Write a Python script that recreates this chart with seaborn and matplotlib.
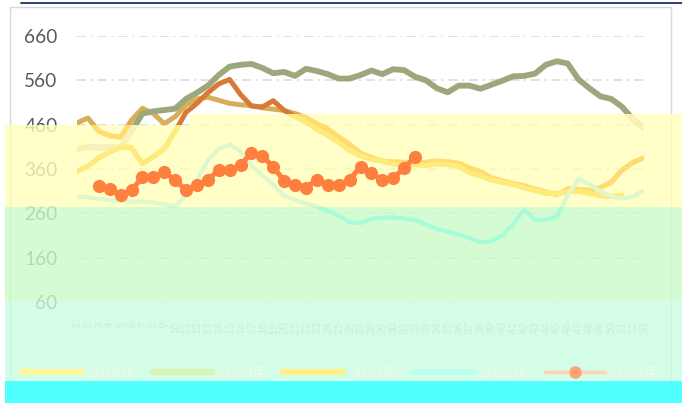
import numpy as np
import pandas as pd
import matplotlib.pyplot as plt
import seaborn as sns
from matplotlib.patches import Polygon, Rectangle
from matplotlib.lines import Line2D

nan = np.nan

# x axis: one category per week
weeks = [str(i) for i in range(1, 54)]
names = ['2019年', '2020年', '2021年', '2022年', '2023年']

# values, one per week
s2019 = [464, 475, 445, 435, 432, 470, 497, 485, 462, 478,
         505, 518, 522, 515, 508, 505, 503, 498, 495, 492,
         485, 476, 462, 450, 432, 415, 396, 386, 378, 376,
         375, 373, 375, 378, 376, 373, 362, 354, 340, 333,
         327, 322, 315, 308, 302, 315, 314, 312, 318, 330,
         358, 375, 385]
s2020 = [405, 410, 408, 410, 408, 445, 485, 490, 493, 496,
         518, 532, 548, 572, 591, 595, 597, 588, 576, 579,
         570, 586, 581, 574, 564, 564, 572, 582, 574, 585,
         583, 568, 560, 542, 533, 548, 548, 541, 550, 559,
         569, 570, 575, 595, 603, 598, 562, 542, 524, 518,
         500, 472, 452]
s2021 = [355, 366, 385, 398, 410, 408, 372, 388, 405, 445,
         488, 508, 532, 552, 562, 528, 502, 500, 514, 492,
         478, 466, 450, 436, 420, 402, 390, 382, 378, 372,
         368, 370, 368, 372, 370, 366, 352, 345, 335, 330,
         325, 318, 312, 306, 304, 310, 310, 305, 300, 298,
         300, nan, nan]
s2022 = [298, 296, 293, 290, 288, 286, 287, 285, 280, 276,
         300, 335, 380, 405, 415, 400, 368, 345, 325, 300,
         290, 282, 275, 266, 255, 240, 238, 247, 250, 251,
         248, 245, 235, 225, 218, 212, 204, 195, 197, 210,
         235, 268, 245, 246, 252, 300, 338, 325, 310, 298,
         293, 298, 312]
s2023 = [nan, nan, 321, 314, 301, 312, 342, 342, 353, 335,
         312, 324, 335, 358, 358, 369, 396, 389, 365, 333,
         325, 318, 336, 325, 325, 336, 365, 351, 335, 340,
         362, 388] + [nan] * 21

yticks = [60, 160, 260, 360, 460, 560, 660]

df = pd.DataFrame({'week': range(len(weeks)), names[0]: s2019, names[1]: s2020,
                   names[2]: s2021, names[3]: s2022, names[4]: s2023})
long = df.melt('week', var_name='series', value_name='price').dropna()

colors = ['#D9AE5A', '#9DA77C', '#DA7838', '#7EE8C8', '#FF7F3F']
widths = [3.6, 4.2, 3.6, 2.8, 3.6]
# how the lines look inside the washed-out yellow strip
pale = ['#FFDB70', '#F8F0B8', '#FFEB7A', '#DDF8CF']

sns.set_theme(style='white')
plt.rcParams['font.family'] = ['Lato', 'Noto Sans CJK SC', 'DejaVu Sans']

W, H = 682, 403
fig = plt.figure(figsize=(W / 100, H / 100), dpi=100)
ax = fig.add_axes([77 / W, 1 - 302 / H, 567 / W, 266 / H])


def fig_poly(pts, **kw):
    return Polygon([(x / W, 1 - y / H) for x, y in pts], closed=True,
                   transform=fig.transFigure, **kw)


yellow_pts = [(5, 125), (190, 125), (190, 114), (682, 114), (682, 207), (5, 207)]
green_pts = [(5, 207), (682, 207), (682, 300), (5, 300)]
mint_pts = [(5, 300), (682, 300), (682, 381), (5, 381)]
cyan_pts = [(5, 381), (682, 381), (682, 403), (5, 403)]

# the lines
for i in [0, 1, 2, 3]:
    sub = long[long['series'] == names[i]]
    sns.lineplot(data=sub, x='week', y='price', color=colors[i], lw=widths[i],
                 errorbar=None, ax=ax, zorder=2)

# washed colour bands over the lower part of the picture
for pts, c, a in [(yellow_pts, '#FFFFBA', 0.8), (green_pts, '#CAFBC7', 0.8),
                  (mint_pts, '#C9FDE2', 0.8)]:
    p = ax.add_artist(fig_poly(pts, facecolor=c, edgecolor='none', alpha=a, zorder=6))
    p.set_clip_on(False)

# pale copies of the lines inside the bands
for i in [0, 1, 2, 3]:
    sub = long[long['series'] == names[i]]
    sns.lineplot(data=sub, x='week', y='price', color=pale[i], lw=widths[i],
                 errorbar=None, ax=ax, zorder=6.5)
    ax.lines[-1].set_clip_path(fig_poly(yellow_pts))
sub = long[long['series'] == names[3]]
sns.lineplot(data=sub, x='week', y='price', color='#A6FCDA', lw=widths[3],
             errorbar=None, ax=ax, zorder=6.5)
ax.lines[-1].set_clip_path(fig_poly(green_pts))

# dotted series stays vivid on top
sub = long[long['series'] == names[4]]
sns.lineplot(data=sub, x='week', y='price', color=colors[4], lw=3.6, marker='o',
             markersize=9.5, markeredgewidth=0, errorbar=None, ax=ax, zorder=8)

ax.set_xlim(0, len(weeks) - 1)
ax.set_ylim(60, 660)
ax.set_yticks(yticks)
ax.set_xticks(range(len(weeks)))
ax.set_xticklabels(weeks, rotation=90, fontsize=8, color='#BBBBBB')
ax.tick_params(axis='y', length=0, pad=14, labelsize=13.7, labelcolor='#595959')
ax.tick_params(axis='x', length=0, pad=14)
ax.set_xlabel('')
ax.set_ylabel('')
ax.yaxis.grid(True, color='#D9D9D9', linestyle=(0, (6, 3, 1.5, 3)), lw=1.1)
ax.xaxis.grid(False)
sns.despine(ax=ax, left=True, bottom=True)

# legend
leg_cols = ['#FFF59A', '#D6F5B6', '#FFF08A', '#BDFDF0']
handles = [Line2D([], [], color=c, lw=4.5, solid_capstyle='round') for c in leg_cols]
handles.append(Line2D([], [], color='#FFD3B5', lw=2.5, marker='o', ms=9,
                      mfc='#FFA274', mec='none'))
leg = ax.legend(handles, names, loc='center left', bbox_to_anchor=(22 / W, 1 - 373 / H),
                bbox_transform=fig.transFigure, ncol=5, frameon=False, fontsize=10.5,
                handlelength=4.1, handletextpad=0.4, columnspacing=1.13,
                borderpad=0, borderaxespad=0, labelcolor='#ECFBE8')
leg.set_zorder(7)

p = ax.add_artist(fig_poly(cyan_pts, facecolor='#50FFFF', edgecolor='none', zorder=9))
p.set_clip_on(False)

# outer frame and top rule
fig.add_artist(Rectangle((10 / W, -0.1), 661 / W, 1.1 - 7 / H, transform=fig.transFigure,
                         fill=False, edgecolor='#D9D9D9', lw=1, zorder=-1))
fig.add_artist(Line2D([21 / W, 1], [1 - 3 / H, 1 - 3 / H], transform=fig.transFigure,
                      color='#1F2F6E', lw=1.3, zorder=-1))

fig.savefig('out.png', dpi=100)
